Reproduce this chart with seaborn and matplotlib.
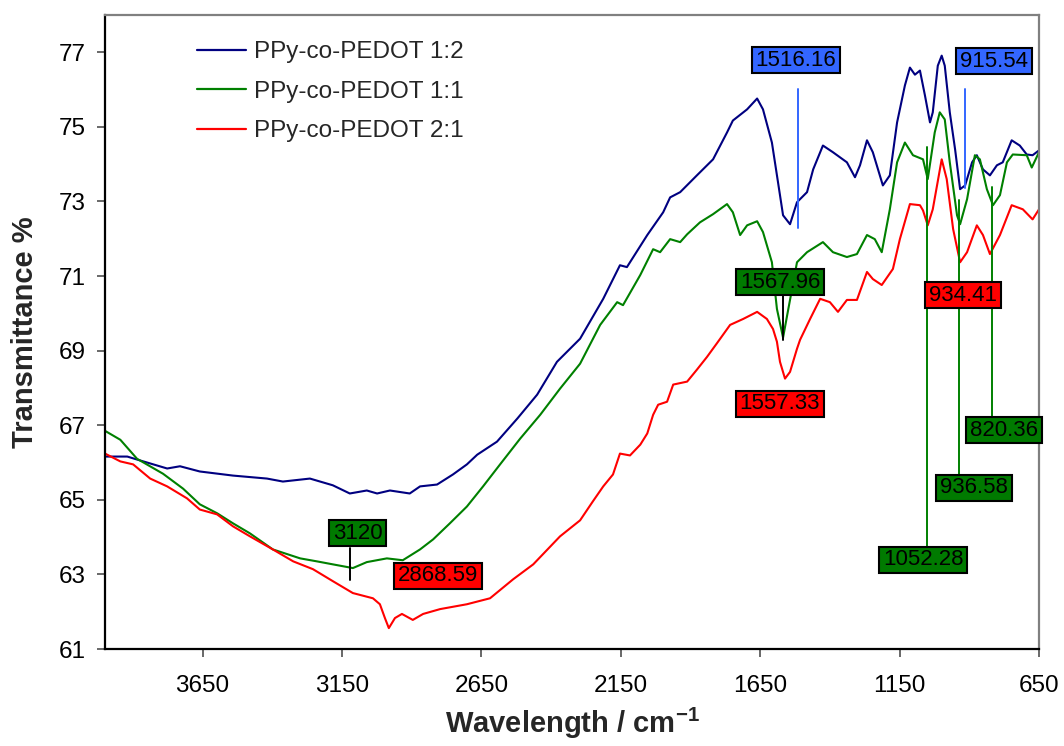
import numpy as np
import pandas as pd
import matplotlib
matplotlib.use("Agg")
import matplotlib.pyplot as plt
from matplotlib.path import Path
import seaborn as sns

# FTIR spectra of PPy-co-PEDOT copolymers (wavenumber in cm-1, transmittance in %)
wn_12 = [4000, 3920, 3885, 3777, 3731, 3660, 3541, 3419, 3362, 3265, 3183, 3122, 3061, 3024,
         2978, 2907, 2870, 2809, 2752, 2702, 2665, 2594, 2521, 2450, 2379, 2296, 2213, 2153,
         2128, 2055, 1998, 1973, 1937, 1877, 1819, 1769, 1748, 1697, 1661, 1640, 1608, 1586,
         1568, 1543, 1518, 1482, 1460, 1425, 1389, 1339, 1310, 1292, 1267, 1246, 1210, 1185,
         1159, 1131, 1113, 1095, 1077, 1059, 1041, 1031, 1013, 999, 988, 970, 951, 933, 915,
         890, 873, 851, 826, 801, 780, 748, 719, 694, 673, 650]
t_12 = [66.16, 66.16, 66.08, 65.84, 65.90, 65.76, 65.65, 65.57, 65.49, 65.57, 65.39, 65.17, 65.25, 65.17,
        65.25, 65.17, 65.36, 65.41, 65.68, 65.95, 66.21, 66.56, 67.18, 67.82, 68.70, 69.32, 70.39, 71.29,
        71.24, 72.10, 72.71, 73.11, 73.25, 73.70, 74.13, 74.85, 75.17, 75.47, 75.76, 75.47, 74.58, 73.51,
        72.63, 72.39, 72.98, 73.25, 73.86, 74.50, 74.32, 74.05, 73.65, 73.97, 74.64, 74.32, 73.43, 73.70,
        75.12, 76.11, 76.59, 76.40, 76.51, 75.84, 75.12, 75.39, 76.64, 76.91, 76.64, 75.39, 74.40, 73.33, 73.43,
        74.05, 74.24, 73.86, 73.70, 73.97, 74.05, 74.64, 74.50, 74.26, 74.24, 74.37]

wn_11 = [4000, 3945, 3885, 3792, 3720, 3660, 3598, 3541, 3480, 3398, 3300, 3240, 3183, 3111,
         3061, 2989, 2932, 2870, 2823, 2763, 2702, 2644, 2583, 2511, 2439, 2368, 2296, 2224,
         2163, 2142, 2080, 2034, 2009, 1973, 1937, 1912, 1866, 1819, 1769, 1748, 1722, 1697,
         1661, 1640, 1608, 1590, 1568, 1551, 1518, 1482, 1425, 1389, 1339, 1303, 1267, 1239,
         1214, 1185, 1159, 1131, 1102, 1066, 1049, 1024, 1006, 988, 970, 944, 933, 908, 880,
         862, 837, 815, 790, 765, 744, 694, 676, 650]
t_11 = [66.85, 66.61, 66.10, 65.70, 65.30, 64.88, 64.64, 64.37, 64.10, 63.67, 63.43, 63.35, 63.27, 63.17,
        63.33, 63.43, 63.38, 63.67, 63.94, 64.37, 64.82, 65.36, 65.95, 66.64, 67.28, 67.98, 68.65, 69.69,
        70.30, 70.22, 71.03, 71.72, 71.64, 71.99, 71.91, 72.12, 72.44, 72.66, 72.93, 72.71, 72.10, 72.36,
        72.47, 72.18, 71.37, 70.12, 69.35, 70.04, 71.37, 71.64, 71.91, 71.64, 71.51, 71.59, 72.10, 71.99,
        71.64, 72.79, 74.05, 74.58, 74.24, 74.13, 73.60, 74.85, 75.39, 75.20, 74.05, 72.63, 72.39, 73.06, 74.24,
        74.13, 73.33, 72.90, 73.17, 74.05, 74.26, 74.24, 73.91, 74.32]

wn_21 = [4000, 3945, 3899, 3838, 3777, 3706, 3660, 3598, 3541, 3480, 3398, 3325, 3254, 3183,
         3111, 3039, 3014, 2996, 2982, 2960, 2935, 2896, 2859, 2798, 2702, 2619, 2536, 2464,
         2368, 2296, 2250, 2213, 2178, 2153, 2117, 2080, 2055, 2034, 2016, 1984, 1962, 1912,
         1877, 1841, 1805, 1758, 1711, 1661, 1626, 1604, 1590, 1579, 1561, 1543, 1518, 1507,
         1471, 1435, 1400, 1371, 1339, 1303, 1267, 1246, 1214, 1174, 1149, 1113, 1077, 1066,
         1049, 1031, 999, 981, 958, 933, 908, 873, 851, 826, 790, 748, 708, 673, 650]
t_21 = [66.24, 66.03, 65.95, 65.57, 65.36, 65.04, 64.74, 64.61, 64.29, 64.02, 63.67, 63.35, 63.14, 62.82,
        62.50, 62.36, 62.20, 61.83, 61.56, 61.83, 61.94, 61.78, 61.94, 62.07, 62.20, 62.36, 62.87, 63.27,
        64.02, 64.45, 64.96, 65.36, 65.68, 66.24, 66.19, 66.48, 66.78, 67.28, 67.55, 67.63, 68.09, 68.17,
        68.49, 68.83, 69.20, 69.69, 69.85, 70.04, 69.85, 69.58, 69.24, 68.70, 68.25, 68.43, 69.05, 69.29,
        69.85, 70.39, 70.30, 70.04, 70.36, 70.36, 71.11, 70.92, 70.76, 71.19, 71.99, 72.93, 72.90, 72.76,
        72.36, 72.79, 74.13, 73.60, 72.26, 71.37, 71.64, 72.36, 72.10, 71.59, 72.10, 72.90, 72.79, 72.52, 72.79]

series_names = ["PPy-co-PEDOT 1:2", "PPy-co-PEDOT 1:1", "PPy-co-PEDOT 2:1"]
series_colors = ["#000080", "#008000", "#FF0000"]

x_ticks = [3650, 3150, 2650, 2150, 1650, 1150, 650]
y_ticks = [61, 63, 65, 67, 69, 71, 73, 75, 77]

# Peak labels: text, box centre (wavenumber, transmittance) and box colour
peak_labels = ["1516.16", "915.54", "1567.96", "1557.33", "3120", "2868.59",
               "934.41", "1052.28", "936.58", "820.36"]
label_x = [1522, 811, 1579, 1579, 3093, 2806, 923, 1066, 883, 776]
label_y = [76.79, 76.76, 70.84, 67.57, 64.11, 62.96, 70.49, 63.39, 65.32, 66.87]
label_colors = ["#3366FF", "#3366FF", "#007A00", "#FF0000", "#007A00", "#FF0000",
                "#FF0000", "#007A00", "#007A00", "#007A00"]

# Leader lines: wavenumber, lower and upper transmittance, colour
leader_wn = [1516.16, 915.54, 1567.96, 3120, 1052.28, 936.58, 820.36]
leader_lo = [72.28, 73.36, 69.28, 62.85, 63.76, 65.64, 67.25]
leader_hi = [76.01, 76.01, 70.46, 63.71, 74.45, 73.03, 73.38]
leader_colors = ["#3366FF", "#3366FF", "#000000", "#000000", "#008000", "#008000", "#008000"]

frames = []
for name, wn, t in zip(series_names, [wn_12, wn_11, wn_21], [t_12, t_11, t_21]):
    frames.append(pd.DataFrame({"wn": wn, "T": t, "sample": name}))
df = pd.concat(frames, ignore_index=True)

sns.set_style("ticks")
plt.rcParams["font.family"] = ["Liberation Sans", "DejaVu Sans"]
plt.rcParams["mathtext.fontset"] = "custom"
plt.rcParams["mathtext.rm"] = "Liberation Sans"
plt.rcParams["mathtext.bf"] = "Liberation Sans:bold"

fig = plt.figure(figsize=(10.64, 7.46), dpi=100)
ax = fig.add_axes([105 / 1064, 97 / 746, 934 / 1064, 634 / 746])

sns.lineplot(data=df, x="wn", y="T", hue="sample", hue_order=series_names,
             palette=series_colors, estimator=None, linewidth=1.5, ax=ax)

ax.set_xlim(4000, 650)
ax.set_ylim(61, 78)
ax.set_xticks(x_ticks)
ax.set_yticks(y_ticks)
ax.tick_params(axis="both", which="major", direction="out", length=6, width=1.1,
               color="#404040", labelsize=17.5, labelcolor="black")
ax.tick_params(axis="x", pad=13)
ax.tick_params(axis="y", pad=8)

for side in ["left", "bottom"]:
    ax.spines[side].set_color("black")
    ax.spines[side].set_linewidth(1.6)
for side in ["top", "right"]:
    ax.spines[side].set_visible(True)
    ax.spines[side].set_color("#808080")
    ax.spines[side].set_linewidth(1.6)

ax.set_xlabel(r"Wavelength / cm$^{\mathbf{-1}}$", fontsize=21, fontweight="bold", labelpad=6)
ax.set_ylabel("Transmittance %", fontsize=21, fontweight="bold", labelpad=14)


def label_box(x0, y0, width, height, mutation_size):
    px = 0.17 * mutation_size
    py = 0.11 * mutation_size
    x0, y0 = x0 - px, y0 - py
    x1, y1 = x0 + width + 2 * px, y0 + height + 2 * py
    return Path([(x0, y0), (x1, y0), (x1, y1), (x0, y1), (x0, y0)], closed=True)


for wn, lo, hi, c in zip(leader_wn, leader_lo, leader_hi, leader_colors):
    ax.plot([wn, wn], [lo, hi], color=c, linewidth=1.4, zorder=3)

for txt, x, y, c in zip(peak_labels, label_x, label_y, label_colors):
    ax.text(x, y, txt, ha="center", va="center", fontsize=16, color="black", zorder=5,
            bbox=dict(boxstyle=label_box, facecolor=c, edgecolor="black", linewidth=1.5))

leg = ax.legend(loc="upper left", bbox_to_anchor=(0.098, 0.959), frameon=False,
                fontsize=17.5, handlelength=2.05, handletextpad=0.3, labelspacing=0.72,
                borderpad=0, borderaxespad=0)
for line in leg.get_lines():
    line.set_linewidth(1.6)

fig.savefig("out.png", dpi=100)
